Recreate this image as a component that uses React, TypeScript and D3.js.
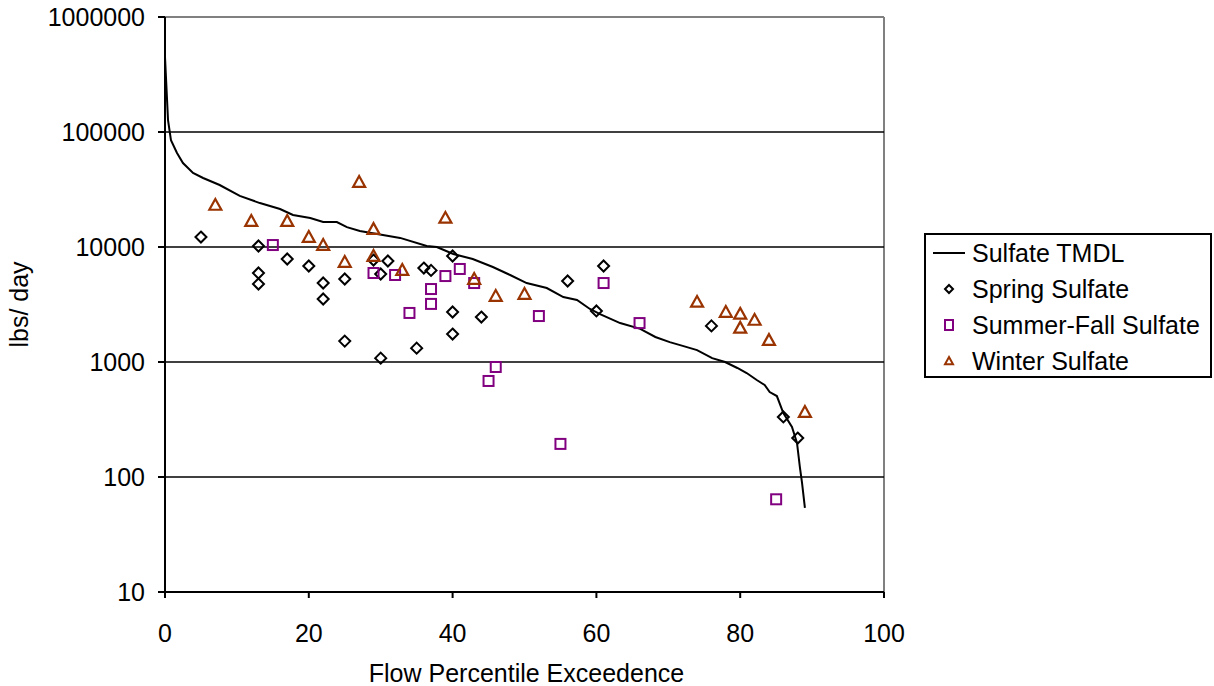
import React from "react";
import * as d3 from "d3";

const tmdlX = [0, 0.42, 0.83, 1.67, 2.5, 3.9, 5.3, 7.6, 10.4, 13.2, 16, 17.8, 20.2, 22, 23.9, 25.3, 27.1, 30.3, 32.7, 36.4, 37.8, 40.1, 42.8, 45.6, 48.0, 50.3, 53.1, 55.4, 57.3, 59.1, 60.5, 63.3, 66.1, 68.2, 70.2, 72.0, 74.0, 76.1, 77.9, 79.6, 80.9, 82.3, 83.4, 84.1, 85.1, 86.0, 87.2, 87.9, 88.3, 88.6, 89.0];
const tmdlY = [449000, 127000, 85000, 65700, 53700, 44000, 39800, 34600, 27800, 24100, 21400, 19000, 17900, 16500, 16500, 14900, 13800, 12700, 12000, 10200, 10000, 8690, 7870, 6700, 5710, 4860, 4400, 3670, 3460, 2890, 2610, 2180, 1940, 1650, 1490, 1380, 1270, 1080, 1000, 887, 802, 697, 631, 548, 506, 360, 272, 198, 122, 89, 54];

const springX = [5, 13, 13, 13, 17, 20, 22, 22, 25, 25, 29, 30, 30, 31, 35, 36, 37, 40, 40, 40, 44, 56, 60, 61, 76, 86, 88];
const springY = [12200, 10200, 5940, 4770, 7870, 6840, 4860, 3530, 5270, 1520, 7700, 5820, 1080, 7550, 1320, 6560, 6260, 8350, 2720, 1750, 2460, 5060, 2780, 6840, 2060, 333, 218];

const summerX = [15, 29, 32, 34, 37, 37, 39, 41, 43, 45, 46, 52, 55, 61, 66, 85];
const summerY = [10400, 5940, 5710, 2670, 4310, 3200, 5590, 6440, 4860, 684, 905, 2510, 194, 4860, 2180, 64];

const winterX = [7, 12, 17, 20, 22, 25, 27, 29, 29, 33, 39, 43, 46, 50, 74, 78, 80, 80, 82, 84, 89];
const winterY = [23200, 16800, 16800, 12200, 10400, 7400, 36700, 14300, 8350, 6300, 17900, 5270, 3750, 3900, 3330, 2720, 2620, 1980, 2320, 1550, 367];

const xTicks = [0, 20, 40, 60, 80, 100];
const yTicks = [10, 100, 1000, 10000, 100000, 1000000];
const legendLabels = ["Sulfate TMDL", "Spring Sulfate", "Summer-Fall Sulfate", "Winter Sulfate"];

const W = 1214, H = 686;
const L = 165, R = 884, T = 17, B = 592;
const FONT = "'Liberation Sans', Arial, sans-serif";
const PURPLE = "#800080";
const BROWN = "#993300";

const x = d3.scaleLinear().domain([0, 100]).range([L, R]);
const y = d3.scaleLog().domain([10, 1000000]).range([B, T]);

const diamond = (cx: number, cy: number, r = 5.5) =>
  `M${cx},${cy - r}L${cx + r},${cy}L${cx},${cy + r}L${cx - r},${cy}Z`;
const triangle = (cx: number, cy: number, s = 6) =>
  `M${cx},${cy - s}L${cx + s},${cy + s * 0.8}L${cx - s},${cy + s * 0.8}Z`;

export default function App() {
  const line = d3
    .line<number>()
    .x((_, i) => x(tmdlX[i]))
    .y((d) => y(d));
  const fs = 25;
  return (
    <svg
      width={W}
      height={H}
      style={{ position: "absolute", left: 0, top: 0, background: "#fff" }}
      fontFamily={FONT}
    >
      <line x1={L} x2={R} y1={T} y2={T} stroke="#808080" strokeWidth={2} />
      <line x1={R} x2={R} y1={T} y2={B} stroke="#808080" strokeWidth={2} />
      {yTicks.slice(1, -1).map((v) => (
        <line key={v} x1={L} x2={R} y1={y(v)} y2={y(v)} stroke="#000" strokeWidth={1.5} />
      ))}
      <line x1={L} x2={L} y1={T} y2={B + 6} stroke="#000" strokeWidth={2} />
      <line x1={L - 7} x2={R} y1={B} y2={B} stroke="#000" strokeWidth={2} />
      {yTicks.map((v) => (
        <g key={v}>
          <line x1={L - 7} x2={L} y1={y(v)} y2={y(v)} stroke="#000" strokeWidth={2} />
          <text x={L - 20} y={y(v)} dy="0.35em" textAnchor="end" fontSize={fs} fill="#000">
            {String(v)}
          </text>
        </g>
      ))}
      {xTicks.map((v) => (
        <g key={v}>
          <line x1={x(v)} x2={x(v)} y1={B} y2={B + 6} stroke="#000" strokeWidth={2} />
          <text x={x(v)} y={633} dy="0.35em" textAnchor="middle" fontSize={fs} fill="#000">
            {v}
          </text>
        </g>
      ))}
      <text x={(L + R) / 2 + 2} y={673} dy="0.35em" textAnchor="middle" fontSize={fs} fill="#000">
        Flow Percentile Exceedence
      </text>
      <text
        transform={`translate(19,${(T + B) / 2}) rotate(-90)`}
        dy="0.35em"
        textAnchor="middle"
        fontSize={fs}
        fill="#000"
      >
        lbs/ day
      </text>
      <path d={line(tmdlY) || ""} fill="none" stroke="#000" strokeWidth={2} />
      {springX.map((v, i) => (
        <path key={"s" + i} d={diamond(x(v), y(springY[i]))} fill="none" stroke="#000" strokeWidth={2} />
      ))}
      {summerX.map((v, i) => (
        <rect key={"m" + i} x={x(v) - 5} y={y(summerY[i]) - 5} width={10} height={10} fill="none" stroke={PURPLE} strokeWidth={2} />
      ))}
      {winterX.map((v, i) => (
        <path key={"w" + i} d={triangle(x(v), y(winterY[i]))} fill="none" stroke={BROWN} strokeWidth={2.2} />
      ))}
      <rect x={925} y={234} width={286} height={143} fill="#fff" stroke="#000" strokeWidth={2} />
      {legendLabels.map((lab, i) => {
        const cy = 253 + i * 36;
        return (
          <g key={lab}>
            {i === 0 && <line x1={933} x2={965} y1={cy} y2={cy} stroke="#000" strokeWidth={2} />}
            {i === 1 && <path d={diamond(949, cy, 4)} fill="none" stroke="#000" strokeWidth={2} />}
            {i === 2 && <rect x={945} y={cy - 5} width={8} height={10} fill="none" stroke={PURPLE} strokeWidth={2} />}
            {i === 3 && <path d={triangle(949, cy, 4)} fill="none" stroke={BROWN} strokeWidth={2} />}
            <text x={972} y={cy} dy="0.35em" fontSize={fs} fill="#000">
              {lab}
            </text>
          </g>
        );
      })}
    </svg>
  );
}
